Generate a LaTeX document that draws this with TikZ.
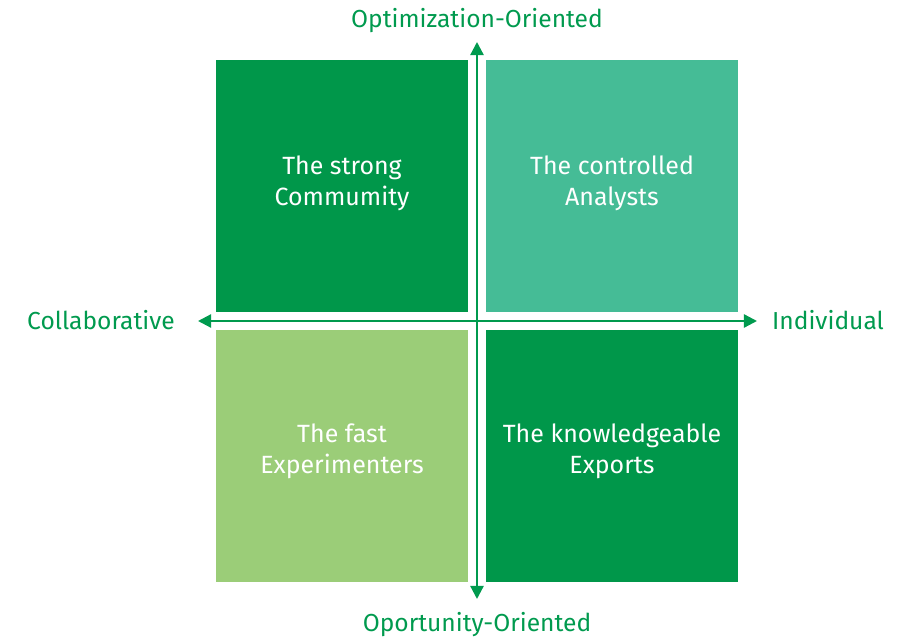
\documentclass[tikz,border=0pt]{standalone}
\usepackage{fontspec}
\setmainfont{Fira Sans}
\usetikzlibrary{arrows.meta, positioning}
\definecolor{darkgreen}{RGB}{0,151,74}
\definecolor{tealgreen}{RGB}{69,188,150}
\definecolor{lightgreen}{RGB}{155,205,120}
\definecolor{axisgreen}{RGB}{0,154,78}

\begin{document}
\begin{tikzpicture}[x=0.02cm, y=-0.02cm,
    quadrant/.style={minimum width=252*0.02cm, minimum height=252*0.02cm, inner sep=0pt, outer sep=0pt},
    boxtext/.style={align=center, text=white, font=\fontsize{14.2}{17.6}\selectfont},
    axislabel/.style={text=axisgreen, font=\fontsize{14}{16}\selectfont, inner sep=0pt},
    axis/.style={{Triangle[length=7.5pt, width=7.5pt]}-{Triangle[length=7.5pt, width=7.5pt]}, axisgreen, line width=1.3pt}
]
\useasboundingbox (0,0) rectangle (905,638);

% Quadrants
\node[quadrant, fill=darkgreen] (strong) at (342,186) {};
\node[quadrant, fill=tealgreen] (controlled) at (612,186) {};
\node[quadrant, fill=lightgreen] (fast) at (342,456) {};
\node[quadrant, fill=darkgreen] (knowledgeable) at (612,456) {};

% Quadrant texts
\node[boxtext] at ([yshift=1.6pt]strong.center) {The strong\\Commumity};
\node[boxtext] at ([yshift=1.6pt]controlled.center) {The controlled\\Analysts};
\node[boxtext] at ([yshift=2.6pt]fast.center) {The fast\\Experimenters};
\node[boxtext] at ([yshift=2.6pt]knowledgeable.center) {The knowledgeable\\Exports};

% Axis labels
\node[axislabel] (optim) at (477,21) {Optimization-Oriented};
\node[axislabel] (oport) at (477,625) {Oportunity-Oriented};
\node[axislabel] (collab) at (101,320) {Collaborative};
\node[axislabel] (indiv) at (828,320) {Individual};

% Axis ends
\coordinate (top) at (477,42);
\coordinate (bottom) at (477,599);
\coordinate (left) at (198,321);
\coordinate (right) at (757,321);

\draw[axis] (bottom) -- (top);
\draw[axis] (left) -- (right);

\end{tikzpicture}
\end{document}
